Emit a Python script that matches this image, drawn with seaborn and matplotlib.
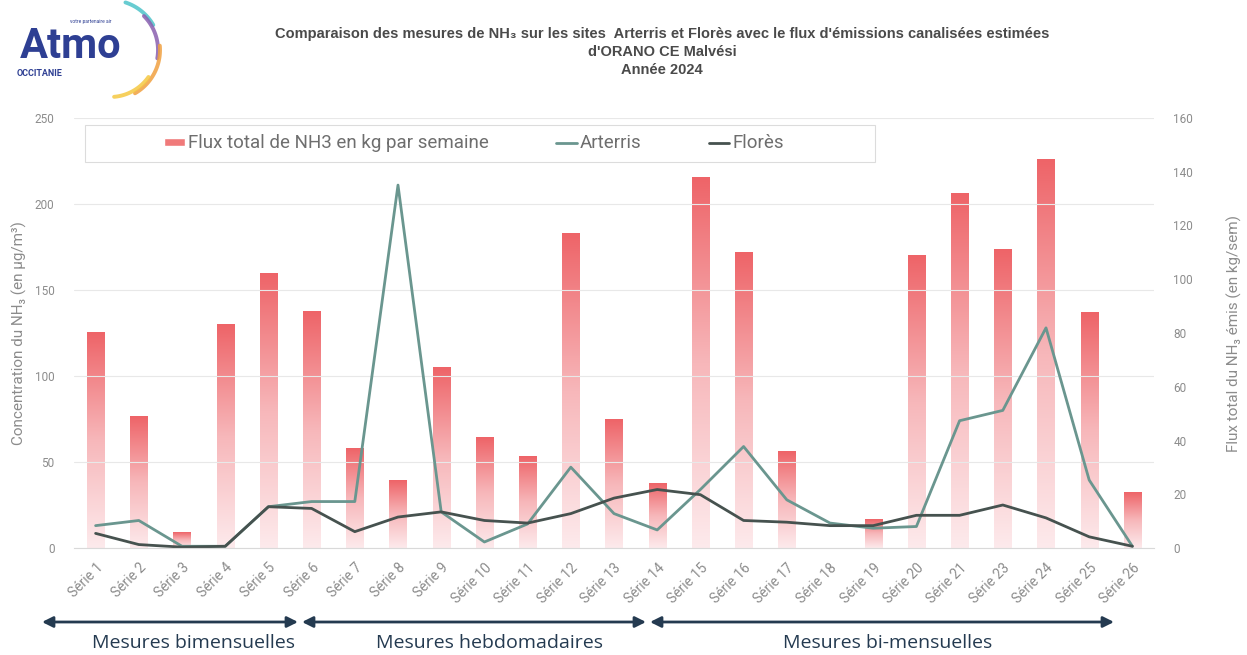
import numpy as np
import pandas as pd
import seaborn as sns
import matplotlib.pyplot as plt
from matplotlib.colors import LinearSegmentedColormap
from matplotlib.patches import Rectangle
from matplotlib.lines import Line2D

SERIES = ["Série 1", "Série 2", "Série 3", "Série 4", "Série 5", "Série 6", "Série 7",
          "Série 8", "Série 9", "Série 10", "Série 11", "Série 12", "Série 13", "Série 14",
          "Série 15", "Série 16", "Série 17", "Série 18", "Série 19", "Série 20", "Série 21",
          "Série 23", "Série 24", "Série 25", "Série 26"]
FLUX = [80, 49, 5.6, 83, 102, 88, 37, 25, 67, 41, 34, 117, 48, 24,
        138, 110, 36, 0, 10.5, 109, 132, 111, 144.5, 87.5, 20.5]
ARTERRIS = [13, 16, 1, 1, 24, 27, 27, 211, 21, 3.5, 14, 47, 20, 10.5,
            34, 59, 28, 14.5, 11.5, 12.5, 74, 80, 128, 39.5, 1]
FLORES = [8.5, 2, 0.5, 1, 24, 23, 9.5, 18, 21, 16, 14.5, 20, 29, 34,
          31, 16, 15, 13, 13, 19, 19, 25, 17.5, 6.5, 1]

PERIODS = ["Mesures bimensuelles", "Mesures hebdomadaires", "Mesures bi-mensuelles"]

TITLE = ("Comparaison des mesures de NH₃ sur les sites  Arterris et Florès avec le flux "
         "d'émissions canalisées estimées\nd'ORANO CE Malvési\nAnnée 2024")

sns.set_style("white")
plt.rcParams['font.family'] = ['Roboto', 'DejaVu Sans']

GREY = "#8c8c8c"
TEAL = "#6a968f"
DARK = "#46524f"
NAVY = "#243a50"

df = pd.DataFrame({"serie": SERIES, "flux": FLUX, "arterris": ARTERRIS, "flores": FLORES})

W, H = 1247, 655
fig = plt.figure(figsize=(W / 100, H / 100), dpi=100)
ax = fig.add_axes([74 / W, 1 - 548 / H, 1080 / W, 430 / H])
ax2 = ax.twinx()

# bars (right axis) with a vertical gradient
sns.barplot(data=df, x="serie", y="flux", ax=ax2, width=0.4, color="#f07a7a", saturation=1)
cmap = LinearSegmentedColormap.from_list("pinkgrad", ["#fdeaec", "#f7b7ba", "#ee6468"])
grad = np.linspace(0, 1, 256).reshape(-1, 1)
for p in ax2.patches:
    x0, w, h = p.get_x(), p.get_width(), p.get_height()
    if h <= 0:
        continue
    ax2.imshow(grad, extent=[x0, x0 + w, 0, h], origin="lower", aspect="auto",
               cmap=cmap, zorder=p.get_zorder())
    p.set_visible(False)

# lines (left axis)
sns.lineplot(data=df, x="serie", y="arterris", ax=ax, color=TEAL, lw=2, sort=False)
sns.lineplot(data=df, x="serie", y="flores", ax=ax, color=DARK, lw=2, sort=False)

ax.set_zorder(2)
ax2.set_zorder(1)
ax.patch.set_visible(False)

ax.set_xlim(-0.5, len(SERIES) - 0.5)
ax2.set_xlim(-0.5, len(SERIES) - 0.5)
ax.set_ylim(0, 250)
ax2.set_ylim(0, 160)
ax.set_yticks(range(0, 251, 50))
ax2.set_yticks(range(0, 161, 20))
ax.set_xticks(range(len(SERIES)))
ax.set_xticklabels(SERIES, rotation=45, ha="right", rotation_mode="anchor")
ax.tick_params(axis="x", colors=GREY, labelsize=10, length=0, pad=9)
ax.tick_params(axis="y", colors=GREY, labelsize=8.5, length=0, pad=14)
ax2.tick_params(axis="y", colors=GREY, labelsize=8.5, length=0, pad=14)
ax.grid(axis="y", color="#e8e8e8", lw=0.8)
ax.set_xlabel("")
ax.set_ylabel("Concentration du NH₃ (en µg/m³)", color=GREY, fontsize=11)
ax2.set_ylabel("Flux total du NH₃ émis (en kg/sem)", color=GREY, fontsize=11)
ax.yaxis.set_label_coords(-47 / 1080, 0.5)
ax2.yaxis.set_label_coords(1 + 73 / 1080, 0.5)
for a in (ax, ax2):
    for s in a.spines.values():
        s.set_visible(False)
ax.spines["bottom"].set_visible(True)
ax.spines["bottom"].set_color("#d9d9d9")

# overlay in pixel coordinates for the decorations
deco = fig.add_axes([0, 0, 1, 1], zorder=3)
deco.set_xlim(0, W)
deco.set_ylim(H, 0)
deco.axis("off")
deco.patch.set_visible(False)

# legend box
deco.add_patch(Rectangle((85, 125), 790, 37, facecolor="white", edgecolor="#dcdcdc", lw=0.8))
handles = [Rectangle((0, 0), 1, 1, facecolor="#f07a7a"),
           Line2D([], [], color=TEAL, lw=2),
           Line2D([], [], color=DARK, lw=2)]
deco.legend(handles, ["Flux total de NH3 en kg par semaine", "Arterris", "Florès"],
            loc="center", bbox_to_anchor=(474 / W, 1 - 143.5 / H), bbox_transform=fig.transFigure,
            ncol=3, frameon=False, fontsize=13.5, handlelength=1.1, handleheight=0.3,
            handletextpad=0.15, columnspacing=3.6, labelcolor="#6e6e6e")

# title
fig.text(662 / W, 1 - 27 / H, TITLE, ha="center", va="top", fontsize=10.5, fontweight="bold",
         color="#4a4a4a", linespacing=1.35, family=["Liberation Sans", "DejaVu Sans"])

# logo
deco.text(20, 58, "Atmo", fontsize=30, color="#2e3f93", fontweight="bold", va="baseline")
deco.text(17, 73, "OCCITANIE", fontsize=6.5, color="#2e3f93", fontweight="bold", va="center")
deco.text(70, 22, "votre partenaire air", fontsize=3.5, color="#2e3f93", va="center")
t = np.radians
for c, r, a0, a1 in [("#4ec3c9", 50, 30, 72), ("#8a5fb0", 48, -10, 45),
                     ("#f0a040", 50, -60, 5), ("#f5c842", 47, -85, -35)]:
    th = np.linspace(t(a0), t(a1), 60)
    deco.plot(110 + r * np.cos(th), 50 - r * np.sin(th), color=c, lw=2.8, alpha=0.85,
              solid_capstyle="round")

# period arrows
arrow_kw = dict(arrowstyle="<|-|>", color=NAVY, lw=2, mutation_scale=16, shrinkA=0, shrinkB=0)
for (xa, xb), xc, label in zip([(42, 298), (302, 646), (650, 1114)], [194, 490, 888], PERIODS):
    deco.annotate("", xy=(xb, 622), xytext=(xa, 622), arrowprops=arrow_kw)
    deco.text(xc, 643, label, ha="center", va="center", fontsize=14, color=NAVY,
              family="Open Sans")

fig.savefig("out.png", dpi=100)
